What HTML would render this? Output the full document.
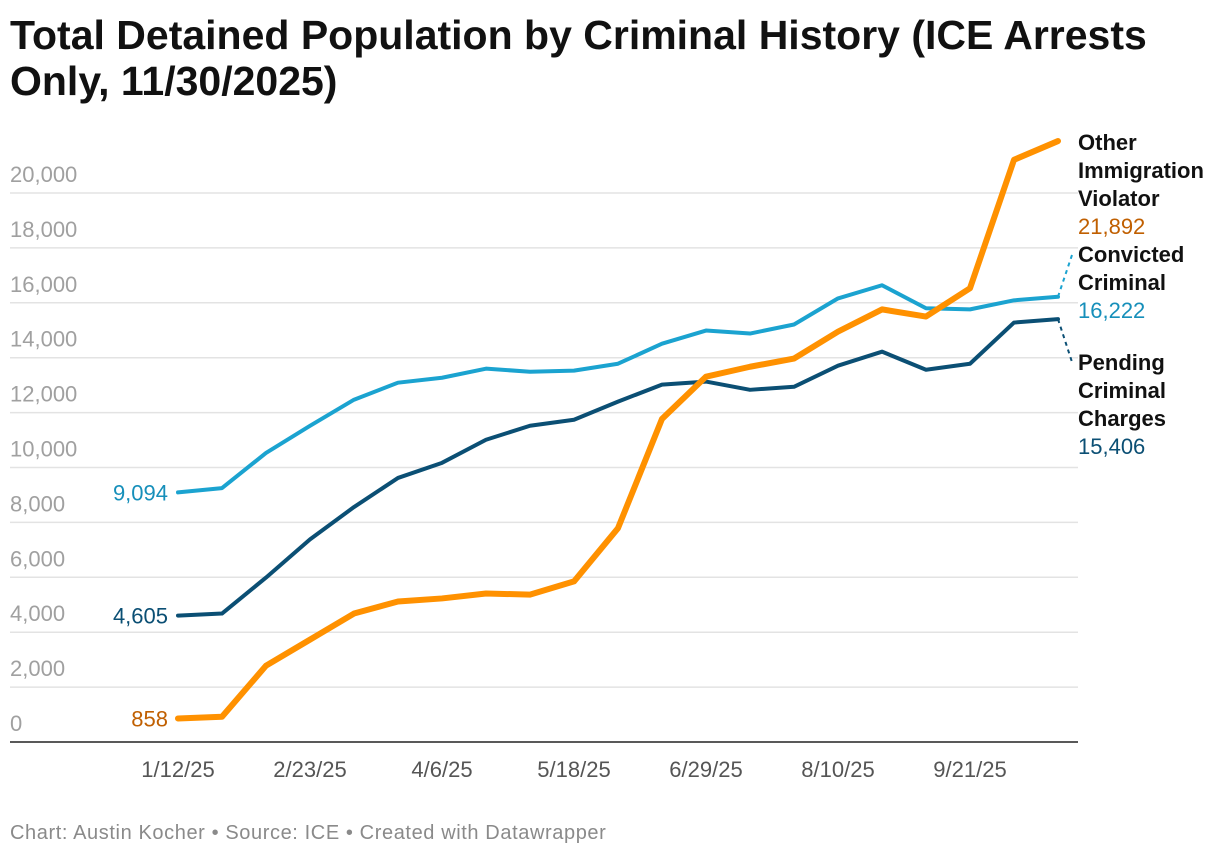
<!DOCTYPE html>
<html><head><meta charset="utf-8"><style>
body{margin:0;background:#fff;font-family:"Liberation Sans",sans-serif;}
#wrap{position:relative;width:1220px;height:858px;overflow:hidden}
h1{position:absolute;left:10px;top:12px;margin:0;font-size:41px;line-height:46px;font-weight:bold;color:#111;width:1165px;letter-spacing:0px}
#foot{position:absolute;left:10px;top:822px;font-size:20px;letter-spacing:0.6px;color:#8a8a8a}
</style></head><body>
<div id="wrap">
<h1>Total Detained Population by Criminal History (ICE Arrests Only, 11/30/2025)</h1>
<svg id="svg" width="1220" height="858" style="position:absolute;left:0;top:0"></svg>
<div id="foot">Chart: Austin Kocher • Source: ICE • Created with Datawrapper</div>
</div>
<script>
const yTicks=[0,2000,4000,6000,8000,10000,12000,14000,16000,18000,20000];
const xLabels=["1/12/25","2/23/25","4/6/25","5/18/25","6/29/25","8/10/25","9/21/25"];
const xLabelIdx=[0,3,6,9,12,15,18];
const other=[858,920,2780,3730,4680,5120,5230,5410,5370,5850,7790,11770,13310,13670,13970,14950,15760,15500,16530,21210,21892];
const convicted=[9094,9250,10530,11520,12470,13090,13270,13600,13490,13530,13780,14510,14990,14880,15210,16160,16640,15800,15760,16090,16222];
const pending=[4605,4680,5990,7380,8560,9620,10170,11010,11520,11740,12400,13020,13130,12830,12940,13710,14220,13560,13780,15280,15406];
const svg=document.getElementById('svg');const NS='http://www.w3.org/2000/svg';
const y=v=>742-v*(549/20000);const x=i=>178+i*44;
function mk(t,a,p){const e=document.createElementNS(NS,t);for(const k in a)e.setAttribute(k,a[k]);(p||svg).appendChild(e);return e;}
yTicks.forEach(v=>{
 if(v>0){const l=mk('line',{x1:10,x2:1078,y1:y(v),y2:y(v),stroke:'#e3e3e3','stroke-width':1.5});
 
 }
 const t=mk('text',{x:10,y:y(v)-11,'font-size':22,fill:'#a0a0a0'});t.textContent=v.toLocaleString('en-US');
 
 
});
const ax=mk('line',{x1:10,x2:1078,y1:742,y2:742,stroke:'#222','stroke-width':1.5});


xLabels.forEach((s,k)=>{const t=mk('text',{x:x(xLabelIdx[k]),y:777,'font-size':22,fill:'#555','text-anchor':'middle'});t.textContent=s;
 
 });
function series(d,c,w,name){const p=mk('polyline',{points:d.map((v,i)=>x(i)+','+y(v)).join(' '),fill:'none',stroke:c,'stroke-width':w,'stroke-linejoin':'round','stroke-linecap':'round'});
 
 }
series(convicted,'#1ba3d0',4,'line-convicted');
series(pending,'#0b4f74',4,'line-pending');
series(other,'#ff9100',6,'line-other');
function lab(txt,xx,yy,c,anchor,bold,name){const t=mk('text',{x:xx,y:yy,'font-size':22,fill:c,'text-anchor':anchor||'start','font-weight':bold?'bold':'normal'});t.textContent=txt;
 
 }
lab(convicted[0].toLocaleString('en-US'),168,y(convicted[0])+8,'#168fba','end',0,'start-label-convicted');
lab(pending[0].toLocaleString('en-US'),168,y(pending[0])+8,'#0b4f74','end',0,'start-label-pending');
lab(other[0].toLocaleString('en-US'),168,y(other[0])+8,'#c05f00','end',0,'start-label-other');
const L=1078;
[["Other",150],["Immigration",178],["Violator",206]].forEach(a=>lab(a[0],L,a[1],'#111','start',1,'legend-other'));
lab(other[20].toLocaleString('en-US'),L,234,'#c05f00','start',0,'end-value-other');
[["Convicted",262],["Criminal",290]].forEach(a=>lab(a[0],L,a[1],'#111','start',1,'legend-convicted'));
lab(convicted[20].toLocaleString('en-US'),L,318,'#168fba','start',0,'end-value-convicted');
[["Pending",370],["Criminal",398],["Charges",426]].forEach(a=>lab(a[0],L,a[1],'#111','start',1,'legend-pending'));
lab(pending[20].toLocaleString('en-US'),L,454,'#0b4f74','start',0,'end-value-pending');
const c1=mk('line',{x1:x(20),y1:y(convicted[20]),x2:1072,y2:255,stroke:'#1ba3d0','stroke-width':2,'stroke-dasharray':'4,4'});


const c2=mk('line',{x1:x(20),y1:y(pending[20]),x2:1072,y2:362,stroke:'#0b4f74','stroke-width':2,'stroke-dasharray':'4,4'});


</script>
</body></html>
